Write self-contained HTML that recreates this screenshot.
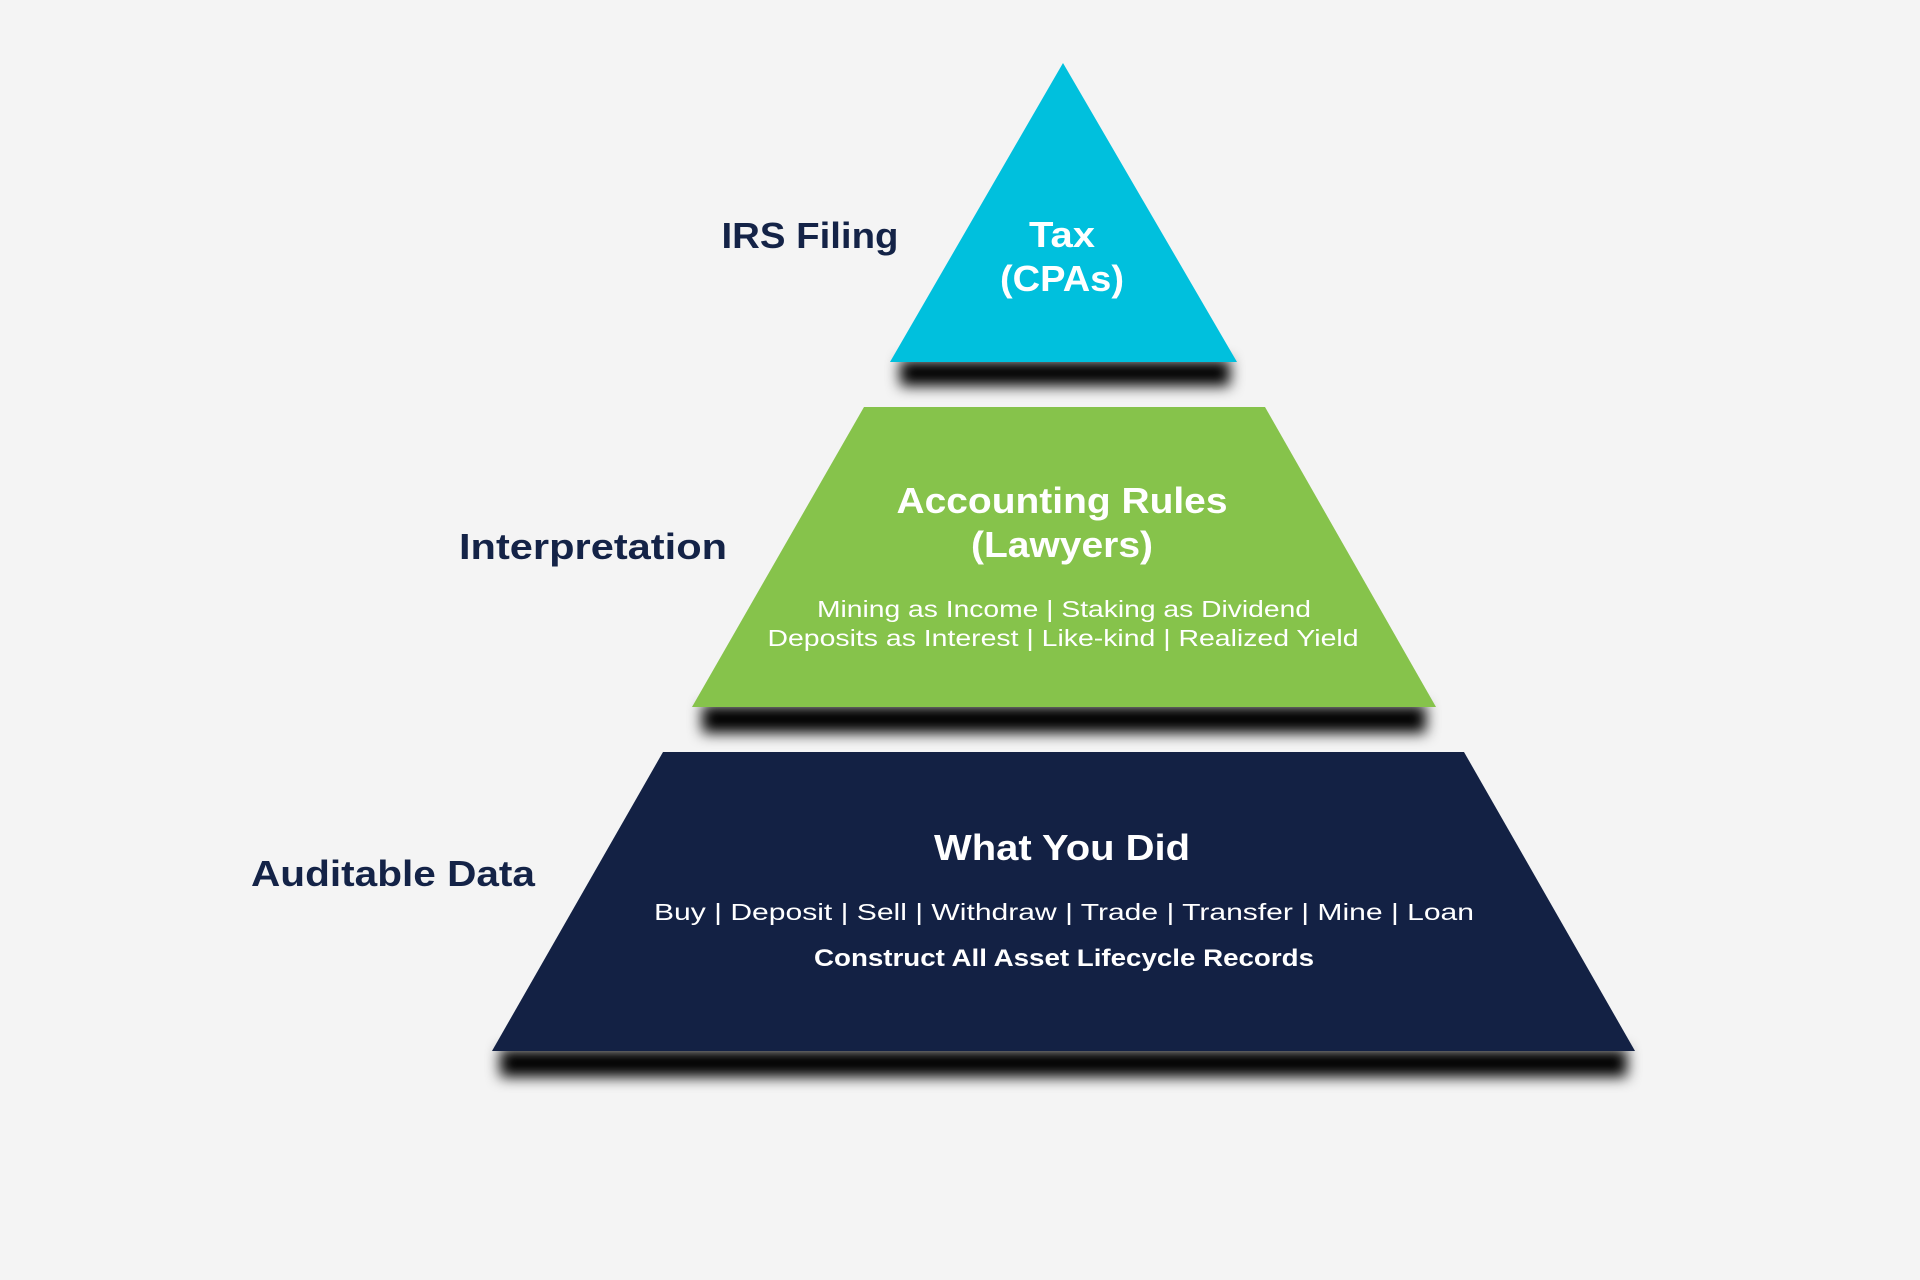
<!DOCTYPE html>
<html><head><meta charset="utf-8"><style>
html,body{margin:0;padding:0;background:#f4f4f4;}
svg{display:block;}
</style></head><body>
<svg width="1920" height="1280" viewBox="0 0 1920 1280" xmlns="http://www.w3.org/2000/svg">
<defs>
<filter id="b" x="-20%" y="-100%" width="140%" height="300%"><feGaussianBlur stdDeviation="7"/></filter>
</defs>
<rect width="1920" height="1280" fill="#f4f4f4"/>
<!-- shadows -->
<rect x="900" y="360" width="330" height="26" fill="#000" filter="url(#b)"/>
<rect x="702" y="705" width="724" height="28" fill="#000" filter="url(#b)"/>
<rect x="500" y="1049" width="1127" height="28" fill="#000" filter="url(#b)"/>
<!-- shapes -->
<polygon points="1063,63 1237,362 890,362" fill="#00C0DD"/>
<polygon points="864,407 1265,407 1436,707 692,707" fill="#86C34B"/>
<polygon points="663,752 1464,752 1635,1051 492,1051" fill="#132144"/>
<g font-family="Liberation Sans, sans-serif" font-weight="bold" text-anchor="middle">
<text x="810" y="248" font-size="36" fill="#142347" textLength="177" lengthAdjust="spacingAndGlyphs">IRS Filing</text>
<text x="593" y="559" font-size="36" fill="#142347" textLength="268" lengthAdjust="spacingAndGlyphs">Interpretation</text>
<text x="393" y="886" font-size="36" fill="#142347" textLength="284" lengthAdjust="spacingAndGlyphs">Auditable Data</text>
<text x="1062" y="247" font-size="36" fill="#fff" textLength="66" lengthAdjust="spacingAndGlyphs">Tax</text>
<text x="1062" y="291" font-size="36" fill="#fff" textLength="124" lengthAdjust="spacingAndGlyphs">(CPAs)</text>
<text x="1062" y="513" font-size="36" fill="#fff" textLength="331" lengthAdjust="spacingAndGlyphs">Accounting Rules</text>
<text x="1062" y="557" font-size="36" fill="#fff" textLength="182" lengthAdjust="spacingAndGlyphs">(Lawyers)</text>
<text x="1062" y="860" font-size="36" fill="#fff" textLength="256" lengthAdjust="spacingAndGlyphs">What You Did</text>
<text x="1064" y="966" font-size="24" fill="#fff" textLength="500" lengthAdjust="spacingAndGlyphs">Construct All Asset Lifecycle Records</text>
</g>
<g font-family="Liberation Sans, sans-serif" text-anchor="middle" fill="#fff" font-size="23">
<text x="1064" y="617" textLength="494" lengthAdjust="spacingAndGlyphs">Mining as Income  |  Staking as Dividend</text>
<text x="1063" y="646" textLength="591" lengthAdjust="spacingAndGlyphs">Deposits as Interest  |  Like-kind  |  Realized Yield</text>
<text x="1064" y="920" textLength="820" lengthAdjust="spacingAndGlyphs">Buy  |  Deposit  |  Sell  |  Withdraw  |  Trade  |  Transfer  |  Mine  |  Loan</text>
</g>
</svg>
</body></html>
